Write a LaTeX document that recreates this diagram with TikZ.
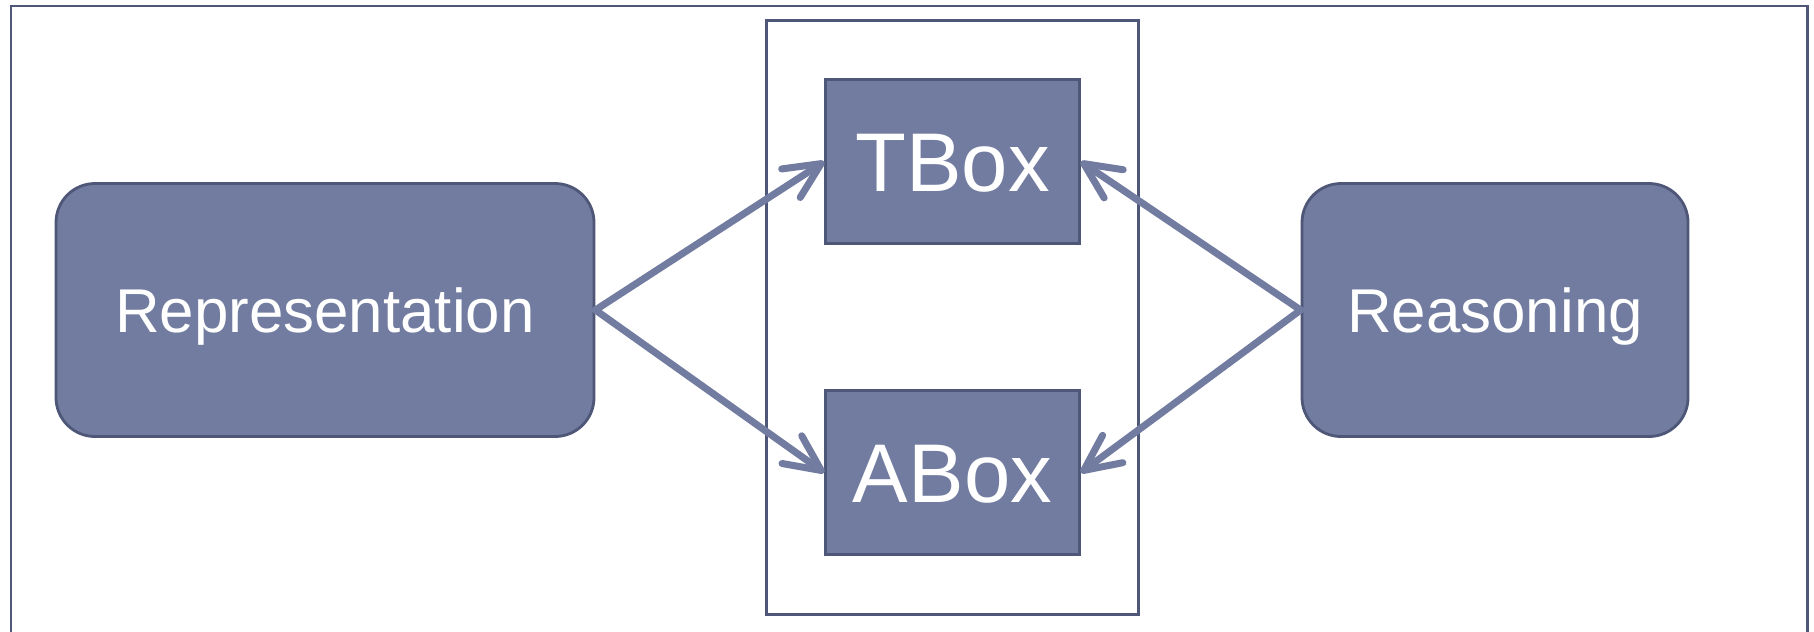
\documentclass[tikz,border=0pt]{standalone}
\usepackage{fontspec}
\setmainfont{Liberation Sans}
\usetikzlibrary{arrows.meta}
\definecolor{boxfill}{HTML}{727CA0}
\definecolor{boxline}{HTML}{4F5778}

\begin{document}
\begin{tikzpicture}[every node/.style={fill=boxfill,draw=boxline,line width=0.8pt,text=white,inner sep=0pt},
  part/.style={rounded corners=0.39cm,minimum width=5.38cm,minimum height=2.53cm,
    font=\fontsize{17.6}{20}\selectfont,text height=12.6pt,text depth=0pt},
  kbox/.style={minimum width=2.54cm,minimum height=1.64cm,
    font=\fontsize{23.7}{28}\selectfont,text height=17pt,text depth=0pt},
  link/.style={draw=boxfill,line width=2pt,line cap=round,
    -{Straight Barb[length=3.6mm,width=3.4mm,round]}}]
\useasboundingbox (0,0) rectangle (18.14,6.31);
% frames
\draw[boxline,line width=0.85pt] (0.11,-0.5) rectangle (18.07,6.25);
\draw[boxline,line width=0.85pt] (7.667,0.17) rectangle (11.383,6.103);
% boxes
\node[part] (rep) at (3.25,3.21) {Representation};
\node[part,minimum width=3.86cm] (rea) at (14.95,3.21) {Reasoning};
\node[kbox] (tbox) at (9.525,4.693) {TBox};
\node[kbox] (abox) at (9.525,1.585) {ABox};
% arrows
\draw[link] (rep.east)--(tbox.west);
\draw[link] (rep.east)--(abox.west);
\draw[link] (rea.west)--(tbox.east);
\draw[link] (rea.west)--(abox.east);
\end{tikzpicture}
\end{document}
